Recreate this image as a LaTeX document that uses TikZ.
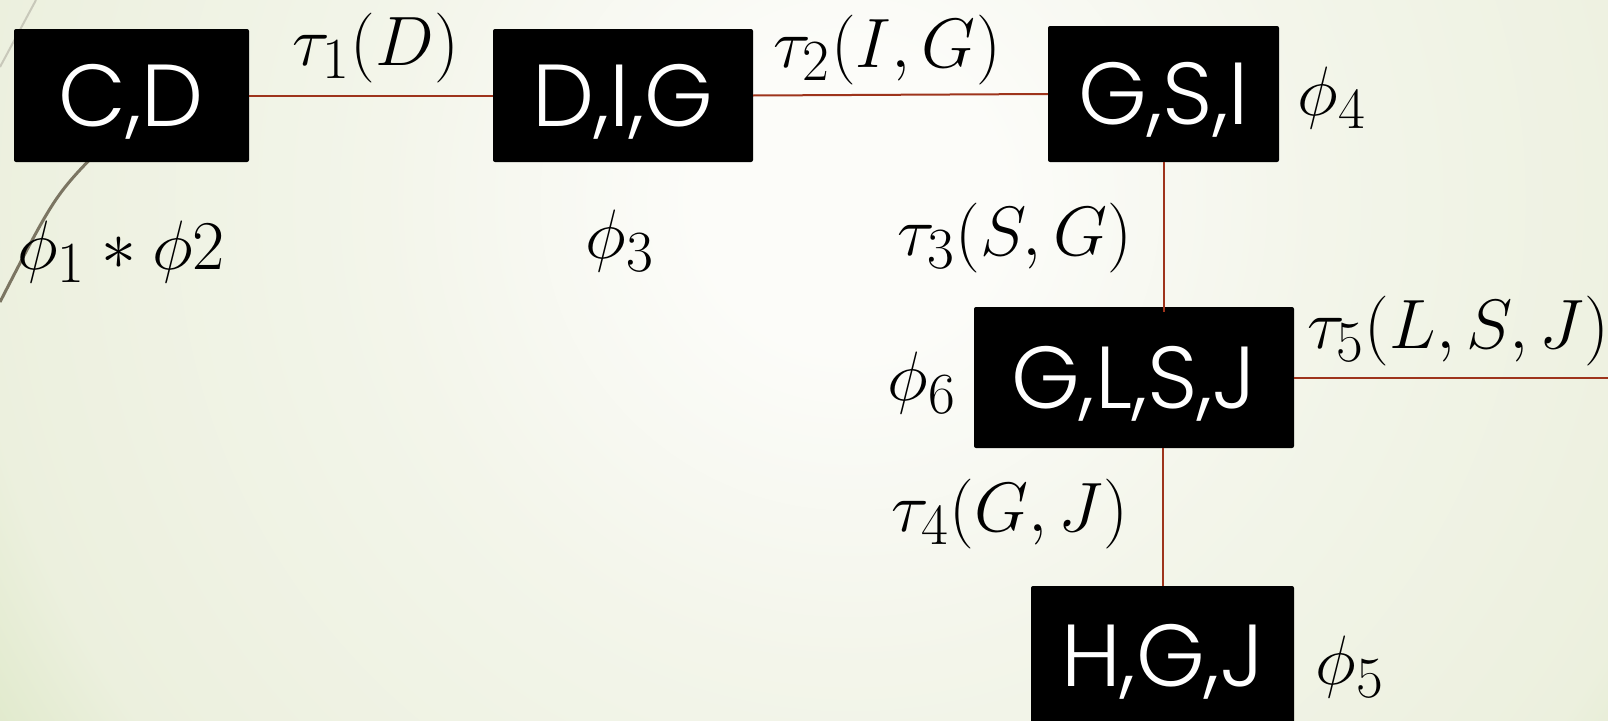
\documentclass[tikz,border=0pt]{standalone}
\usepackage{fontspec}
\newfontfamily\boxfont{Poppins Light}
\definecolor{sepred}{RGB}{158,52,28}
\definecolor{bgA}{HTML}{FCFCF9}
\definecolor{bgB}{HTML}{F3F5EA}
\definecolor{bgC}{HTML}{ECF0DE}
\definecolor{bgD}{HTML}{E1EACD}
\definecolor{bgE}{HTML}{DAE4C4}
\definecolor{arclight}{RGB}{200,200,186}
\definecolor{arcdark}{RGB}{123,117,98}
% radial backdrop; the path's bounding box covers the central 50bp square
\pgfdeclareradialshading{bgshade}{\pgfpoint{0bp}{0bp}}{%
  color(0bp)=(bgA); color(3bp)=(bgA); color(9.4bp)=(bgB); color(17.6bp)=(bgC);
  color(20bp)=(bgD); color(24bp)=(bgE); color(50bp)=(bgE)}
\begin{document}
\begin{tikzpicture}[x=1pt,y=-1pt,
  clique/.style={fill=black, rounded corners=2pt, inner sep=0pt, text=white,
    font=\boxfont\fontsize{88}{94}\selectfont, text height=61pt, text depth=0pt},
  sepedge/.style={draw=sepred, line width=2pt},
  lbl/.style={inner sep=0pt, font=\Huge, scale=2.81}]
\useasboundingbox (0,0) rectangle (1608,720);

% background
\begin{scope}
  \clip (0,0) rectangle (1608,720);
  \shade[shading=bgshade] (850,200) circle (1250);
  % decorative arcs
  \draw[arclight, line width=2pt] (36,0) -- (0,67);
  \draw[arcdark, line width=3pt] (104,145) .. controls (55,195) .. (0,302);
\end{scope}

% cliques
\node[clique, minimum width=235pt, minimum height=133pt] (cd)   at (131.5,95.5) {C,D};
\node[clique, minimum width=260pt, minimum height=133pt] (dig)  at (623,95.5)   {D,I,G};
\node[clique, minimum width=231pt, minimum height=136pt] (gsi)  at (1163.5,94)  {G,S,I};
\node[clique, minimum width=320pt, minimum height=141pt] (glsj) at (1134,377.5) {G,L,S,J};
\node[clique, minimum width=263pt, minimum height=140pt] (hgj)  at (1162.5,656) {H,G,J};
\coordinate (rim) at (1608,377.5);

% separators
\draw[sepedge] (cd.east) -- (dig.west);
\draw[sepedge] (dig.east) -- (gsi.west);
\draw[sepedge] (gsi.south) -- ([yshift=-5pt]gsi.south |- glsj.north);
\draw[sepedge] (hgj.north) -- (hgj.north |- glsj.south);
\draw[sepedge] (glsj.east) -- (rim);

% messages
\node[lbl] (t1) at (376,48)   {$\tau_1(D)$};
\node[lbl] (t2) at (887,50)   {$\tau_2(I,G)$};
\node[lbl] (t3) at (1015,238) {$\tau_3(S,G)$};
\node[lbl] (t4) at (1010,514) {$\tau_4(G,J)$};
\node[lbl] (t5) at (1458,331) {$\tau_5(L,S,J)$};

% potentials
\node[lbl] (p12) at (121,252) {$\phi_1 * \phi2$};
\node[lbl] (p3)  at (620,241) {$\phi_3$};
\node[lbl] (p4)  at (1332,98) {$\phi_4$};
\node[lbl] (p6)  at (922,383) {$\phi_6$};
\node[lbl] (p5)  at (1350,667) {$\phi_5$};
\end{tikzpicture}
\end{document}
